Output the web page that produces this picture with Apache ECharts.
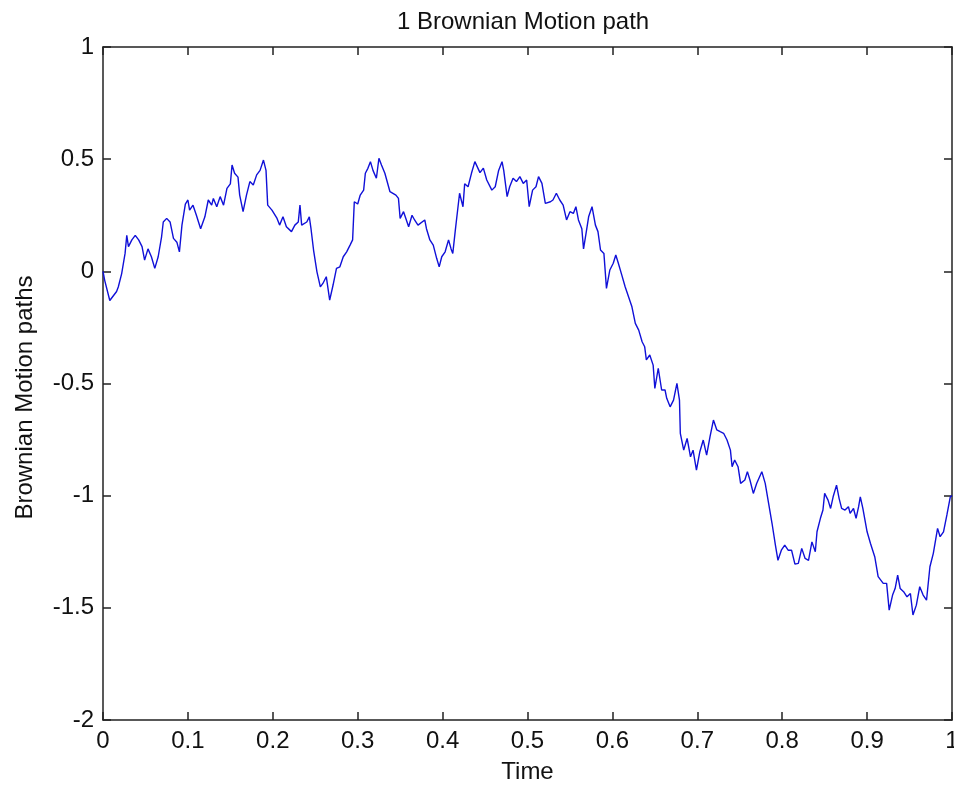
<!DOCTYPE html>
<html>
<head>
<meta charset="utf-8">
<script src="https://cdn.jsdelivr.net/npm/echarts@6/dist/echarts.min.js"></script>
<style>
html, body { margin: 0; padding: 0; background: #fff; width: 100%; height: 100%; overflow: hidden; }
#pathChart { width: 100%; height: 100%; }
</style>
</head>
<body>
<div id="pathChart"></div>
<script>
// time steps
var times = [
	0, 0.002, 0.008, 0.016, 0.018, 0.022, 0.026, 0.028, 0.030, 0.034,
	0.038, 0.042, 0.046, 0.049, 0.053, 0.057, 0.061, 0.065, 0.069, 0.071,
	0.075, 0.079, 0.083, 0.087, 0.090, 0.093, 0.097, 0.100, 0.102, 0.106,
	0.110, 0.115, 0.120, 0.124, 0.128, 0.130, 0.134, 0.138, 0.142, 0.146,
	0.150, 0.152, 0.155, 0.159, 0.161, 0.165, 0.169, 0.173, 0.177, 0.181,
	0.185, 0.189, 0.192, 0.194, 0.199, 0.205, 0.208, 0.212, 0.216, 0.222,
	0.226, 0.230, 0.232, 0.234, 0.240, 0.243, 0.245, 0.248, 0.252, 0.256,
	0.259, 0.263, 0.267, 0.271, 0.275, 0.279, 0.283, 0.287, 0.291, 0.294,
	0.296, 0.300, 0.303, 0.307, 0.309, 0.312, 0.315, 0.318, 0.322, 0.325,
	0.328, 0.332, 0.338, 0.345, 0.348, 0.350, 0.354, 0.360, 0.364, 0.367,
	0.371, 0.379, 0.381, 0.385, 0.389, 0.393, 0.396, 0.399, 0.403, 0.407,
	0.410, 0.412, 0.415, 0.417, 0.420, 0.424, 0.426, 0.430, 0.434, 0.438,
	0.440, 0.444, 0.448, 0.452, 0.458, 0.462, 0.466, 0.470, 0.472, 0.476,
	0.479, 0.483, 0.487, 0.491, 0.495, 0.499, 0.502, 0.506, 0.510, 0.513,
	0.517, 0.521, 0.527, 0.530, 0.534, 0.538, 0.542, 0.546, 0.550, 0.554,
	0.557, 0.560, 0.564, 0.566, 0.569, 0.572, 0.576, 0.580, 0.583, 0.586,
	0.590, 0.593, 0.597, 0.601, 0.604, 0.607, 0.611, 0.615, 0.619, 0.623,
	0.627, 0.631, 0.635, 0.638, 0.640, 0.644, 0.648, 0.650, 0.654, 0.658,
	0.662, 0.664, 0.668, 0.672, 0.676, 0.679, 0.680, 0.684, 0.688, 0.692,
	0.695, 0.699, 0.703, 0.707, 0.711, 0.715, 0.719, 0.723, 0.727, 0.731,
	0.735, 0.739, 0.741, 0.744, 0.748, 0.751, 0.756, 0.759, 0.762, 0.766,
	0.770, 0.776, 0.780, 0.784, 0.788, 0.792, 0.795, 0.799, 0.803, 0.807,
	0.811, 0.815, 0.819, 0.823, 0.827, 0.831, 0.835, 0.839, 0.841, 0.845,
	0.848, 0.850, 0.854, 0.857, 0.860, 0.864, 0.867, 0.870, 0.874, 0.878,
	0.880, 0.884, 0.887, 0.890, 0.892, 0.895, 0.900, 0.904, 0.909, 0.913,
	0.919, 0.923, 0.926, 0.930, 0.933, 0.936, 0.939, 0.943, 0.947, 0.951,
	0.954, 0.958, 0.962, 0.966, 0.970, 0.974, 0.978, 0.983, 0.986, 0.990,
	0.994, 0.998, 1.000
];

// path values, same order as times
var pathValues = [
	0, -0.04, -0.13, -0.09, -0.07, -0.01, 0.08, 0.16, 0.11, 0.14,
	0.16, 0.14, 0.11, 0.05, 0.10, 0.065, 0.013, 0.065, 0.154, 0.22,
	0.236, 0.22, 0.147, 0.13, 0.087, 0.206, 0.30, 0.318, 0.273, 0.295,
	0.25, 0.19, 0.243, 0.318, 0.295, 0.325, 0.288, 0.333, 0.295, 0.37,
	0.39, 0.474, 0.437, 0.42, 0.34, 0.266, 0.34, 0.40, 0.385, 0.43,
	0.45, 0.496, 0.45, 0.295, 0.273, 0.236, 0.206, 0.243, 0.199, 0.177,
	0.206, 0.22, 0.295, 0.206, 0.22, 0.243, 0.19, 0.095, -0.002, -0.069,
	-0.054, -0.024, -0.128, -0.061, 0.013, 0.02, 0.065, 0.087, 0.117, 0.14,
	0.31, 0.30, 0.34, 0.362, 0.437, 0.459, 0.489, 0.45, 0.415, 0.504,
	0.474, 0.437, 0.355, 0.34, 0.325, 0.236, 0.266, 0.199, 0.25, 0.229,
	0.206, 0.229, 0.19, 0.14, 0.117, 0.058, 0.02, 0.065, 0.087, 0.14,
	0.10, 0.08, 0.184, 0.25, 0.348, 0.288, 0.39, 0.377, 0.437, 0.489,
	0.496, 0.44, 0.46, 0.407, 0.362, 0.377, 0.45, 0.489, 0.45, 0.333,
	0.377, 0.415, 0.40, 0.422, 0.392, 0.407, 0.288, 0.362, 0.377, 0.422,
	0.392, 0.303, 0.31, 0.318, 0.348, 0.318, 0.295, 0.229, 0.266, 0.258,
	0.288, 0.229, 0.19, 0.10, 0.17, 0.243, 0.288, 0.206, 0.177, 0.095,
	0.08, -0.076, 0.006, 0.036, 0.073, 0.036, -0.016, -0.069, -0.113, -0.158,
	-0.232, -0.262, -0.314, -0.336, -0.395, -0.373, -0.418, -0.522, -0.432, -0.529,
	-0.529, -0.566, -0.604, -0.574, -0.499, -0.574, -0.722, -0.797, -0.745, -0.827,
	-0.797, -0.886, -0.804, -0.752, -0.819, -0.737, -0.663, -0.707, -0.715, -0.722,
	-0.752, -0.797, -0.871, -0.841, -0.871, -0.945, -0.93, -0.893, -0.93, -0.99,
	-0.945, -0.893, -0.945, -1.034, -1.123, -1.22, -1.288, -1.243, -1.22, -1.243,
	-1.243, -1.305, -1.302, -1.235, -1.28, -1.288, -1.206, -1.25, -1.161, -1.101,
	-1.064, -0.99, -1.02, -1.057, -1.005, -0.953, -1.012, -1.057, -1.064, -1.049,
	-1.079, -1.057, -1.101, -1.049, -1.005, -1.057, -1.161, -1.213, -1.272, -1.361,
	-1.391, -1.391, -1.51, -1.443, -1.414, -1.354, -1.414, -1.428, -1.451, -1.436,
	-1.532, -1.488, -1.406, -1.443, -1.466, -1.317, -1.257, -1.146, -1.183, -1.161,
	-1.086, -1.005, -1.0
];

var xTicks = ['0', '0.1', '0.2', '0.3', '0.4', '0.5', '0.6', '0.7', '0.8', '0.9', '1'];
var yTicks = ['-2', '-1.5', '-1', '-0.5', '0', '0.5', '1'];

var fontName = '"Liberation Sans", Arial, sans-serif';
var axisColor = '#222';

function boxAxis(pos, showLabel) {
	return {
		type: 'value',
		position: pos,
		axisLine: { show: true, onZero: false, lineStyle: { color: axisColor, width: 1.5 } },
		axisTick: { show: true, inside: true, length: 8, lineStyle: { color: axisColor, width: 1.5 } },
		splitLine: { show: false },
		axisLabel: { show: showLabel }
	};
}

function getOption() {
	var pts = [];
	for (var i = 0; i < times.length; i++) {
		pts.push([times[i], pathValues[i]]);
	}

	var xBottom = boxAxis('bottom', true);
	xBottom.min = 0; xBottom.max = 1; xBottom.interval = 0.1;
	xBottom.axisLabel = {
		show: true, fontSize: 24, color: '#111', fontFamily: fontName, margin: 9,
		formatter: function (v) { return xTicks[Math.round(v * 10)]; }
	};
	xBottom.name = 'Time';
	xBottom.nameLocation = 'middle';
	xBottom.nameGap = 40;
	xBottom.nameTextStyle = { fontSize: 24, color: '#111', fontFamily: fontName };

	var xTop = boxAxis('top', false);
	xTop.min = 0; xTop.max = 1; xTop.interval = 0.1;

	var yLeft = boxAxis('left', true);
	yLeft.min = -2; yLeft.max = 1; yLeft.interval = 0.5;
	yLeft.axisLabel = {
		show: true, fontSize: 24, color: '#111', fontFamily: fontName, margin: 9,
		formatter: function (v) { return yTicks[Math.round((v + 2) * 2)]; }
	};
	yLeft.name = 'Brownian Motion paths';
	yLeft.nameLocation = 'middle';
	yLeft.nameGap = 66;
	yLeft.nameTextStyle = { fontSize: 24, color: '#111', fontFamily: fontName, padding: [0, 28, 0, 0] };

	var yRight = boxAxis('right', false);
	yRight.min = -2; yRight.max = 1; yRight.interval = 0.5;

	var option = {
		backgroundColor: '#fff',
		animation: false,
		title: {
			text: '1 Brownian Motion path',
			left: 392,
			top: 5,
			textStyle: { fontSize: 24, fontWeight: 'normal', color: '#111', fontFamily: fontName }
		},
		// v6 would pull the grid in to keep the "1" label on screen; the original clips it
		grid: { left: 103, right: 2, top: 47, bottom: 67, outerBoundsMode: 'none' },
		xAxis: [xBottom, xTop],
		yAxis: [yLeft, yRight],
		series: [
			{
				name: 'path',
				type: 'line',
				xAxisIndex: 0,
				yAxisIndex: 0,
				showSymbol: false,
				lineStyle: { color: '#1010d8', width: 1.4 },
				data: pts
			}
		]
	};
	return option;
}

var dom = document.getElementById('pathChart');
var myChart = echarts.init(dom);
myChart.setOption(getOption());
</script>
</body>
</html>
